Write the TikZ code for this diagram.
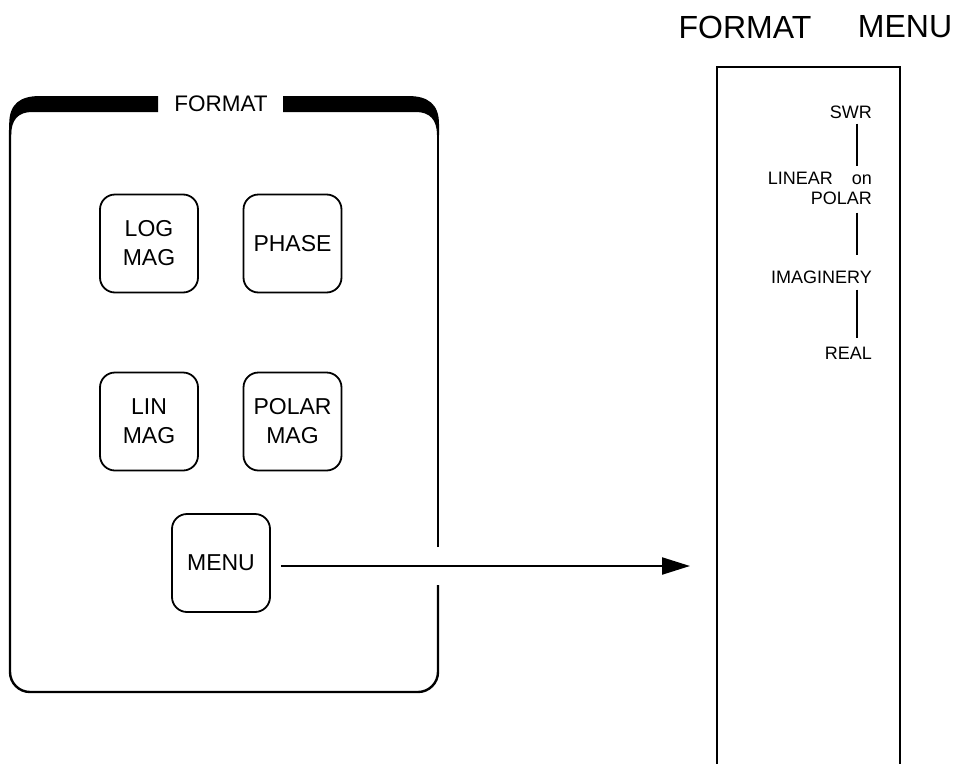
\documentclass[tikz,border=0pt]{standalone}
\usepackage{fontspec}
\setmainfont{Liberation Sans}
\usetikzlibrary{arrows.meta}
\begin{document}
\begin{tikzpicture}[x=1pt,y=-1pt,
  panelline/.style={line width=2.4pt},
  btn/.style={draw,line width=1.8pt,rounded corners=15pt,minimum width=98pt,minimum height=98pt,inner sep=0pt,align=center,font=\fontsize{23}{29}\selectfont},
  menutxt/.style={anchor=east,inner sep=0pt,font=\fontsize{18}{18}\selectfont},
  titletxt/.style={inner sep=0pt,font=\fontsize{32}{32}\selectfont},
  conn/.style={line width=1.2pt},
  arr/.style={line width=2.2pt,-{Triangle[length=28pt,width=17pt]}}]
\useasboundingbox (0,0) rectangle (961,763);
% title
\node[titletxt] (t1) at (745,27) {FORMAT};
\node[titletxt] (t2) at (905,27) {MENU};
% left panel top band
\fill (9.2,135) -- (9.2,124) .. controls (9.2,104) and (20,96) .. (40,96) -- (158,96) -- (158,112) -- (32,112) .. controls (18,112) and (11.2,120) .. (11.2,135) -- cycle;
\fill (439,135) -- (439,124) .. controls (439,104) and (428,96) .. (408,96) -- (283,96) -- (283,112) -- (416,112) .. controls (430,112) and (437,120) .. (437,135) -- cycle;
\node[inner sep=0pt,font=\fontsize{22.5}{22.5}\selectfont] (ftitle) at (221,104) {FORMAT};
% panel sides and bottom
\draw[panelline] (438,547) -- (438,130);
\draw[panelline,rounded corners=20pt] (10,130) -- (10,692) -- (438,692) -- (438,585);
% buttons
\node[btn] (logmag) at (149,243.5) {LOG\\MAG};
\node[btn] (phase) at (292.5,243.5) {PHASE};
\node[btn] (linmag) at (149,421.5) {LIN\\MAG};
\node[btn] (polarmag) at (292.5,421.5) {POLAR\\MAG};
\node[btn] (menu) at (221,563) {MENU};
% right menu panel
\draw[line width=1.6pt] (717,770) -- (717,67) -- (900,67) -- (900,770);
\coordinate (lx) at (857,0);
\coordinate (arrowend) at (690,0);
\node[menutxt] (swr) at (872,112) {SWR};
\node[menutxt] (linear) at (872,178) {LINEAR\hspace{19pt}on};
\node[menutxt] (polar) at (872,198) {POLAR};
\node[menutxt] (imag) at (872,277) {IMAGINERY};
\node[menutxt] (real) at (872,353) {REAL};
\draw[conn] ([yshift=-5pt]swr.south -| lx) -- ([yshift=6pt]linear.north -| lx);
\draw[conn] ([yshift=-8pt]polar.south -| lx) -- ([yshift=15pt]imag.north -| lx);
\draw[conn] ([yshift=-6pt]imag.south -| lx) -- ([yshift=9pt]real.north -| lx);
% arrow
\draw[arr] ([shift={(10pt,-3pt)}]menu.east) -- ([yshift=-3pt]menu.east -| arrowend);
\end{tikzpicture}
\end{document}
